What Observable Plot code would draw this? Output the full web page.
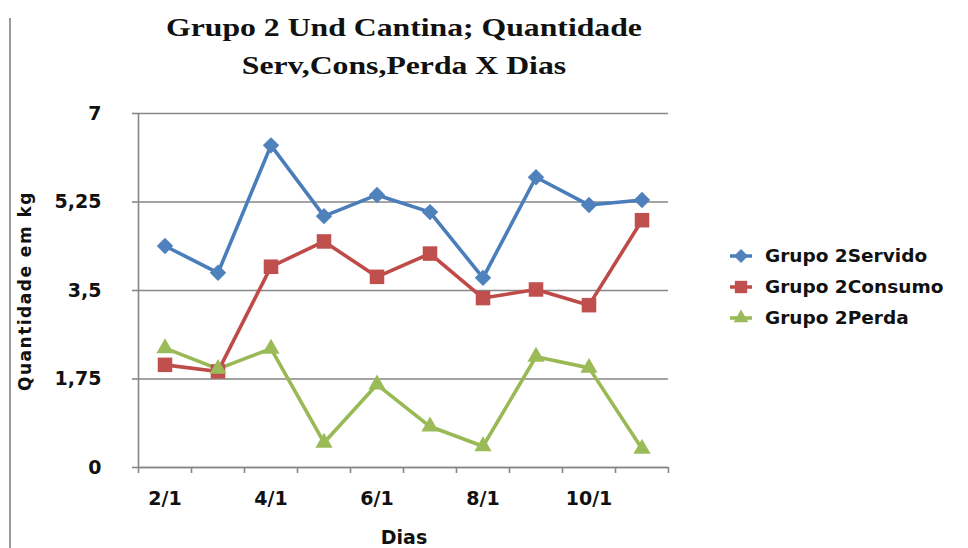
<!DOCTYPE html>
<html>
<head>
<meta charset="utf-8">
<script src="https://cdn.jsdelivr.net/npm/d3@7"></script>
<script src="https://cdn.jsdelivr.net/npm/@observablehq/plot@0.6"></script>
<style>
  html, body { margin: 0; padding: 0; background: #fff; }
  #wrap { position: relative; width: 968px; height: 548px; overflow: hidden; background: #fff; }
  #chart { position: absolute; left: 0; top: 0; }
  .title { position: absolute; left: 0; width: 808px; text-align: center;
           font-family: "Liberation Serif", "Times New Roman", serif; font-weight: bold;
           font-size: 26px; color: #111; white-space: nowrap; transform: scaleX(1.22); transform-origin: 404px 0; }
  .ytitle { position: absolute; left: 25px; top: 291px; transform: translate(-50%, -50%) rotate(-90deg);
            font-family: "DejaVu Sans", sans-serif; font-weight: bold; font-size: 17px; letter-spacing: 1.5px;
            white-space: nowrap; color: #111; }
  .xtitle { position: absolute; left: 404px; top: 528px; transform: translateX(-50%); line-height: 19px;
            font-family: "DejaVu Sans", sans-serif; font-weight: bold; font-size: 19px; white-space: nowrap; color: #111; }
  .border { position: absolute; left: 9px; top: 18px; width: 2px; height: 540px; background: #9a9a9a; }
  .legend { position: absolute; left: 726px; top: 240px; }
  .legend .row { display: flex; align-items: center; height: 31px; }
  .legend svg { width: 30px; height: 24px; margin-right: 9px; }
  .legend span { font-family: "DejaVu Sans", sans-serif; font-weight: bold; font-size: 18.5px; color: #111; white-space: nowrap; }
</style>
</head>
<body>
<div id="wrap">
  <div class="border"></div>
  <div class="title" style="top:13px">Grupo 2 Und Cantina; Quantidade</div>
  <div class="title" style="top:51px">Serv,Cons,Perda X Dias</div>
  <div id="chart"></div>
  <div class="ytitle">Quantidade em kg</div>
  <div class="xtitle">Dias</div>
  <div class="legend" id="legend"></div>
</div>
<script>
// ---- data ----
const days = ["2/1", "3/1", "4/1", "5/1", "6/1", "7/1", "8/1", "9/1", "10/1", "11/1"];
const servido = [4.38, 3.85, 6.37, 4.97, 5.39, 5.05, 3.75, 5.74, 5.19, 5.29];
const consumo = [2.03, 1.90, 3.97, 4.47, 3.77, 4.23, 3.35, 3.52, 3.21, 4.89];
const perda   = [2.36, 1.95, 2.35, 0.49, 1.64, 0.81, 0.42, 2.19, 1.97, 0.37];
const seriesNames = ["Grupo 2Servido", "Grupo 2Consumo", "Grupo 2Perda"];
const yTicks = [0, 1.75, 3.5, 5.25, 7];
const xTickLabels = ["2/1", "4/1", "6/1", "8/1", "10/1"];

const lineColors = ["#4A7EBB", "#BE4B48", "#98B954"];
const markColors = ["#4F81BD", "#C0504D", "#9BBB59"];
const symbols = ["diamond2", "square", "triangle"];
const radii = [7.4, 8.2, 6.4];

const seriesValues = [servido, consumo, perda];
const rows = [];
seriesValues.forEach((vals, s) => vals.forEach((v, i) => rows.push({i, v, s: seriesNames[s]})));

const xDomain = [-0.5, days.length - 0.5];
const boundaries = d3.range(days.length + 1).map(k => k - 0.5);
const labelPos = xTickLabels.map(l => days.indexOf(l));
const fmt = d => String(d).replace(".", ",");
const grid = "#868686";

const plot = Plot.plot({
  width: 968,
  height: 548,
  marginLeft: 138,
  marginRight: 300,
  marginTop: 113,
  marginBottom: 81,
  style: { fontFamily: "DejaVu Sans, sans-serif", fontWeight: "bold", fontSize: "19px", color: "#111", background: "transparent" },
  x: { domain: xDomain },
  y: { domain: [0, 7] },
  color: { domain: seriesNames, range: lineColors },
  marks: [
    Plot.gridY(yTicks, { stroke: grid, strokeOpacity: 1, strokeWidth: 1.6 }),
    Plot.ruleX([xDomain[0]], { stroke: grid, strokeWidth: 1.6 }),
    Plot.ruleY([0], { stroke: grid, strokeWidth: 1.6 }),
    Plot.axisY(yTicks, { anchor: "left", tickSize: 6, tickPadding: 31, tickFormat: fmt, stroke: grid, strokeWidth: 1.6, fill: "#111", fontSize: 19, fontWeight: "bold", label: null }),
    Plot.axisX(boundaries, { anchor: "bottom", tickSize: 6, tickFormat: () => "", stroke: grid, strokeWidth: 1.6, label: null }),
    Plot.axisX(labelPos, { anchor: "bottom", tickSize: 0, tickPadding: 24, tickFormat: i => days[i], fill: "#111", fontSize: 19, fontWeight: "bold", label: null }),
    Plot.line(rows, { x: "i", y: "v", z: "s", stroke: "s", strokeWidth: 3.6, strokeLinejoin: "round", strokeLinecap: "round" }),
    ...seriesNames.map((name, k) =>
      Plot.dot(rows.filter(d => d.s === name), { x: "i", y: "v", symbol: symbols[k], r: radii[k], fill: markColors[k], stroke: "none" })
    )
  ]
});
document.getElementById("chart").appendChild(plot);

// legend
const leg = document.getElementById("legend");
const d3sym = { diamond2: d3.symbolDiamond2, square: d3.symbolSquare, triangle: d3.symbolTriangle };
seriesNames.forEach((name, k) => {
  const row = document.createElement("div");
  row.className = "row";
  const size = Math.PI * (radii[k] * 0.85) ** 2;
  const p = d3.symbol(d3sym[symbols[k]], size)();
  row.innerHTML = `<svg viewBox="-15 -12 30 24"><line x1="-11" x2="11" y1="0" y2="0" stroke="${lineColors[k]}" stroke-width="3.5"/><path d="${p}" fill="${markColors[k]}"/></svg><span>${name}</span>`;
  leg.appendChild(row);
});
</script>
</body>
</html>
